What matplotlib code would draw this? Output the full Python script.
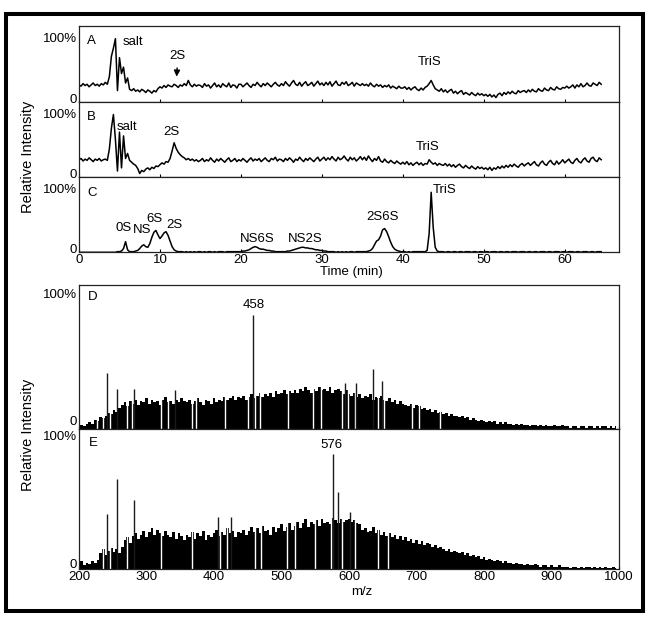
import numpy as np
import matplotlib
matplotlib.use("Agg")
import matplotlib.pyplot as plt
from matplotlib.patches import Rectangle

plt.rcParams['font.family'] = ['Liberation Sans', 'DejaVu Sans']

# ---------------- chromatograms (time step 0.25 min, relative intensity %) ----------------
TIME_STEP = 0.25
trace_a = [
    27, 25, 29, 26, 28, 24, 27, 30, 26, 28, 25, 29, 27, 31, 28, 40, 72, 85, 100, 18,
    70, 45, 55, 30, 38, 20, 18, 21, 17, 19, 16, 20, 18, 15, 19, 17, 14, 18, 16, 21,
    24, 22, 26, 23, 27, 25, 24, 28, 26, 23, 27, 25, 29, 26, 34, 27, 24, 28, 25, 27,
    26, 23, 29, 25, 27, 22, 26, 30, 24, 27, 23, 29, 26, 24, 30, 23, 27, 26, 22, 28,
    28, 24, 27, 30, 26, 23, 28, 26, 31, 27, 24, 29, 26, 30, 27, 24, 28, 31, 27, 25,
    29, 26, 32, 28, 25, 30, 34, 28, 26, 31, 25, 29, 32, 26, 28, 31, 25, 29, 33, 27,
    30, 26, 31, 27, 32, 25, 29, 33, 27, 26, 31, 28, 32, 26, 28, 31, 25, 30, 28, 26,
    29, 26, 28, 25, 30, 26, 24, 28, 25, 27, 23, 26, 24, 27, 22, 25, 23, 21, 25, 22,
    22, 24, 20, 23, 19, 22, 24, 20, 18, 22, 19, 23, 25, 29, 34, 27, 21, 19, 17, 21,
    16, 19, 15, 18, 20, 14, 17, 13, 16, 18, 12, 15, 13, 11, 15, 12, 10, 14, 11, 13,
    10, 12, 9, 12, 8, 11, 7, 12, 14, 10, 15, 12, 16, 13, 17, 14, 13, 18, 15, 17,
    18, 15, 19, 16, 20, 17, 16, 21, 18, 17, 22, 19, 18, 23, 20, 19, 24, 21, 20, 23,
    22, 25, 22, 24, 27, 22, 27, 24, 29, 24, 26, 30, 26, 25, 30, 28, 26, 31, 28,
]
trace_b = [
    28, 30, 26, 29, 27, 31, 28, 25, 29, 27, 30, 26, 28, 29, 27, 45, 78, 100, 60, 10,
    72, 15, 66, 30, 38, 27, 24, 21, 19, 14, 6, 11, 9, 13, 15, 12, 16, 14, 18, 17,
    20, 23, 21, 25, 24, 30, 42, 55, 46, 40, 36, 33, 31, 28, 30, 27, 29, 26, 28, 25,
    27, 30, 25, 28, 26, 31, 27, 24, 29, 26, 30, 27, 24, 28, 31, 25, 27, 30, 25, 28,
    26, 30, 27, 24, 28, 31, 26, 29, 27, 30, 25, 28, 31, 27, 25, 30, 28, 32, 26, 29,
    28, 25, 30, 27, 31, 28, 24, 29, 27, 32, 28, 25, 30, 27, 31, 28, 25, 29, 32, 26,
    29, 32, 27, 31, 28, 33, 29, 26, 32, 28, 30, 34, 29, 26, 32, 28, 31, 26, 29, 33,
    28, 32, 27, 34, 29, 25, 30, 27, 33, 26, 24, 29, 25, 23, 27, 24, 22, 26, 23, 21,
    24, 21, 25, 20, 23, 19, 22, 24, 20, 23, 19, 22, 21, 28, 24, 21, 23, 19, 22, 20,
    19, 22, 18, 21, 17, 20, 16, 19, 21, 17, 15, 19, 16, 14, 18, 15, 13, 17, 14, 16,
    13, 15, 12, 16, 11, 15, 13, 17, 14, 18, 15, 19, 16, 20, 17, 21, 18, 16, 20, 22,
    18, 21, 23, 19, 22, 25, 20, 18, 23, 26, 21, 19, 24, 27, 22, 20, 26, 21, 24, 28,
    23, 26, 29, 24, 22, 27, 30, 25, 23, 28, 31, 26, 24, 30, 32, 27, 25, 31, 28,
]
trace_c = [
    0, 0, 0, 0, 0, 0, 0, 0, 0, 0, 0, 0, 0, 0, 0, 0, 0, 0, 0, 1,
    1, 2, 6, 17, 4, 1, 1, 1, 2, 3, 6, 10, 12, 9, 8, 14, 24, 32, 35, 28,
    22, 26, 31, 33, 27, 18, 9, 4, 2, 1, 1, 1, 0, 1, 0, 1, 0, 1, 0, 1,
    1, 0, 1, 0, 1, 1, 0, 1, 0, 1, 1, 1, 0, 1, 1, 1, 1, 1, 1, 1,
    1, 2, 2, 3, 4, 6, 8, 9, 8, 6, 5, 5, 4, 3, 3, 2, 2, 1, 1, 1,
    1, 1, 1, 2, 2, 3, 4, 5, 6, 7, 8, 8, 7, 7, 6, 6, 5, 4, 4, 3,
    3, 2, 2, 1, 1, 1, 1, 0, 1, 0, 1, 0, 1, 0, 1, 1, 0, 1, 1, 1,
    1, 1, 1, 2, 3, 6, 12, 18, 20, 26, 36, 38, 33, 25, 16, 9, 5, 3, 2, 1,
    1, 1, 0, 1, 0, 1, 1, 1, 1, 1, 1, 1, 3, 30, 96, 40, 8, 2, 1, 1,
    1, 0, 1, 1, 0, 1, 1, 0, 1, 1, 0, 1, 1, 1, 0, 1, 1, 0, 1, 1,
    0, 1, 1, 0, 1, 1, 1, 0, 1, 1, 0, 1, 1, 0, 1, 1, 1, 0, 1, 1,
    1, 0, 1, 1, 0, 1, 1, 0, 1, 1, 1, 0, 1, 1, 0, 1, 1, 1, 0, 1,
    1, 0, 1, 1, 1, 0, 1, 1, 0, 1, 1, 1, 0, 1, 1, 0, 1, 1, 1,
]
time_ticks = [0, 10, 20, 30, 40, 50, 60]

# ---------------- mass spectra (m/z step 4, relative intensity %) ----------------
MZ_START, MZ_STEP = 200, 4
spec_d = [
    2, 3, 2, 4, 5, 4, 7, 6, 9, 8, 10, 12, 11, 14, 13, 16, 18, 20, 17, 21,
    19, 22, 18, 21, 20, 23, 19, 22, 20, 21, 18, 22, 24, 20, 21, 19, 22, 20, 23, 21,
    20, 22, 19, 21, 23, 20, 18, 22, 21, 19, 23, 20, 22, 21, 24, 22, 23, 25, 22, 24,
    23, 25, 22, 24, 26, 23, 25, 27, 24, 26, 25, 27, 24, 28, 26, 27, 29, 26, 28, 27,
    29, 27, 30, 28, 31, 29, 27, 30, 28, 31, 29, 30, 28, 31, 27, 29, 30, 28, 26, 29,
    26, 25, 27, 24, 26, 23, 25, 24, 26, 22, 24, 23, 25, 22, 21, 23, 20, 22, 19, 21,
    19, 18, 17, 19, 16, 18, 17, 15, 16, 14, 15, 13, 14, 12, 13, 11, 12, 10, 11, 10,
    10, 9, 10, 8, 9, 7, 8, 7, 6, 7, 6, 5, 6, 5, 6, 4, 5, 4, 5, 4,
    4, 3, 4, 3, 4, 3, 3, 2, 3, 3, 2, 3, 2, 3, 2, 2, 3, 2, 2, 3,
    2, 2, 1, 2, 2, 1, 2, 2, 1, 2, 2, 1, 2, 1, 2, 2, 1, 2, 1, 2,
]
spec_e = [
    4, 6, 3, 5, 4, 6, 5, 7, 12, 15, 11, 14, 16, 13, 15, 12, 17, 22, 24, 20,
    25, 27, 23, 26, 29, 24, 28, 31, 26, 30, 27, 25, 29, 26, 24, 28, 23, 27, 25, 22,
    26, 24, 28, 23, 27, 25, 29, 22, 26, 24, 27, 30, 25, 28, 26, 31, 27, 29, 24, 28,
    27, 30, 26, 29, 32, 28, 31, 27, 33, 29, 30, 26, 32, 28, 31, 34, 29, 32, 35, 30,
    33, 36, 31, 35, 38, 32, 36, 34, 37, 33, 38, 35, 36, 34, 39, 37, 35, 38, 36, 37,
    38, 36, 37, 35, 34, 30, 31, 28, 29, 32, 27, 30, 26, 28, 25, 27, 24, 26, 23, 25,
    22, 24, 21, 23, 20, 22, 19, 21, 18, 20, 19, 17, 18, 16, 17, 15, 14, 15, 13, 14,
    13, 12, 13, 11, 12, 10, 11, 9, 10, 8, 9, 7, 8, 7, 6, 7, 6, 5, 6, 5,
    5, 4, 5, 4, 4, 3, 4, 3, 3, 4, 3, 2, 3, 3, 2, 3, 2, 2, 3, 2,
    2, 2, 1, 2, 2, 1, 2, 1, 2, 2, 1, 2, 1, 2, 1, 2, 1, 1, 2, 1,
]
# prominent single ions
peaks_d_mz = [242, 257, 282, 342, 458, 594, 611, 636, 649]
peaks_d_int = [42, 30, 30, 29, 85, 34, 34, 45, 36]
peaks_e_mz = [242, 257, 282, 406, 425, 577, 583, 601]
peaks_e_int = [41.5, 68, 52.5, 39.5, 39.5, 86.7, 58, 43]
# m/z positions with missing signal (white gaps)
gaps_d_mz = [226, 236, 246, 271, 279, 322, 332, 367, 374, 416, 451, 461, 468,
             510, 547, 559, 589, 599, 609, 643, 652, 693, 703, 735]
gaps_e_mz = [236, 246, 271, 322, 367, 409, 419, 461, 470, 508, 520, 549, 574,
             589, 609, 643, 658]
mz_ticks = [200, 300, 400, 500, 600, 700, 800, 900, 1000]

# ---------------- figure ----------------
W, H = 650, 622
fig = plt.figure(figsize=(W / 100, H / 100), dpi=100)


def ax_px(left, top, right, bottom):
    return fig.add_axes([left / W, 1 - bottom / H, (right - left) / W, (bottom - top) / H])


FS = 9.5
axA = ax_px(79, 26, 619, 102)
axB = ax_px(79, 102, 619, 177.3)
axC = ax_px(79, 177.3, 619, 252.3)
axD = ax_px(79, 285, 619, 429)
axE = ax_px(79, 429, 619, 569.3)

for ax, tr in [(axA, trace_a), (axB, trace_b), (axC, trace_c)]:
    t = np.arange(len(tr)) * TIME_STEP
    ax.plot(t, tr, color='black', lw=1.1)
    ax.set_xlim(0, 66.7)
    ax.set_ylim(0, 120)
    ax.set_xticks(time_ticks)
    ax.tick_params(axis='x', direction='in', length=2, labelsize=FS, pad=1.5)
    ax.tick_params(axis='x', labelbottom=(ax is axC))

for ax in (axD, axE):
    ax.set_xlim(200, 1000)
    ax.set_xticks(mz_ticks)
    ax.tick_params(axis='x', direction='in', length=2, labelsize=FS, pad=1.5)
    ax.tick_params(axis='x', labelbottom=(ax is axE))

for ax, spec, pk_mz, pk_int, gaps, ytop in [
        (axD, spec_d, peaks_d_mz, peaks_d_int, gaps_d_mz, 107.5),
        (axE, spec_e, peaks_e_mz, peaks_e_int, gaps_e_mz, 105.8)]:
    mz = MZ_START + np.arange(len(spec)) * MZ_STEP
    ax.fill_between(mz, spec, step='mid', color='black', lw=0)
    ax.vlines(gaps, 0, 60, color='white', lw=1.0)
    ax.vlines(pk_mz, 0, pk_int, color='#1a1a1a', lw=1.0)
    ax.set_ylim(0, ytop)

# y labels "100%" and "0" placed as in the reference (0 slightly above the base)
ylab_pos = {axA: (100, 3), axB: (100, 3), axC: (100, 3), axD: (100, 5.4), axE: (99.8, 3.2)}
for ax, (p100, p0) in ylab_pos.items():
    ax.set_yticks([])
    tr = ax.get_yaxis_transform()
    ax.text(-0.004, p100, '100%', transform=tr, ha='right', va='center', fontsize=FS)
    ax.text(-0.004, p0, '0', transform=tr, ha='right', va='center', fontsize=FS)
    for sp in ax.spines.values():
        sp.set_linewidth(0.9)
        sp.set_color('#222222')

# dotted baseline artefacts under A and B
for ax in (axA, axB):
    ax.plot([46.5, 66.5], [-3, -3], color='#444444', lw=0.9,
            linestyle=(0, (1, 1.2)), clip_on=False)

# panel letters and labels
tk = dict(fontsize=FS, color='black')
axA.text(1.0, 96, 'A', va='center', ha='left', **tk)
axA.text(5.4, 95, 'salt', va='center', ha='left', **tk)
axA.annotate('2S', xy=(12.06, 40), xytext=(12.2, 72), ha='center', va='center',
             arrowprops=dict(arrowstyle='-|>', color='black', lw=1.0,
                             mutation_scale=9, shrinkA=2, shrinkB=0), **tk)
axA.text(43.3, 63, 'TriS', va='center', ha='center', **tk)

axB.text(1.0, 96, 'B', va='center', ha='left', **tk)
axB.text(4.7, 79.5, 'salt', va='center', ha='left', **tk)
axB.text(11.4, 71.5, '2S', va='center', ha='center', **tk)
axB.text(43.1, 48, 'TriS', va='center', ha='center', **tk)

axC.text(1.0, 95, 'C', va='center', ha='left', **tk)
axC.text(5.55, 39, '0S', va='center', ha='center', **tk)
axC.text(7.84, 36, 'NS', va='center', ha='center', **tk)
axC.text(9.3, 52.6, '6S', va='center', ha='center', **tk)
axC.text(11.8, 44, '2S', va='center', ha='center', **tk)
axC.text(22.0, 22, 'NS6S', va='center', ha='center', **tk)
axC.text(27.9, 22, 'NS2S', va='center', ha='center', **tk)
axC.text(37.5, 57, '2S6S', va='center', ha='center', **tk)
axC.text(45.1, 100, 'TriS', va='center', ha='center', **tk)

axD.text(213, 98.5, 'D', va='center', ha='left', **tk)
axD.text(458.5, 92.5, '458', va='center', ha='center', **tk)
axE.text(214, 95, 'E', va='center', ha='left', **tk)
axE.text(574, 94, '576', va='center', ha='center', **tk)

# axis titles
fig.text(28 / W, 1 - 157 / H, 'Relative Intensity', rotation=90, ha='center',
         va='center', fontsize=10.5)
fig.text(28 / W, 1 - 435 / H, 'Relative Intensity', rotation=90, ha='center',
         va='center', fontsize=10.5)
fig.text(351 / W, 1 - 272 / H, 'Time (min)', ha='center', va='center', fontsize=FS)
fig.text(362 / W, 1 - 592 / H, 'm/z', ha='center', va='center', fontsize=FS)

# outer frame
fig.add_artist(Rectangle((6 / W, 1 - 610.5 / H), (643 - 6) / W, (610.5 - 14) / H,
                         transform=fig.transFigure, fill=False, lw=2.9,
                         edgecolor='black'))

fig.savefig('out.png', dpi=100)
